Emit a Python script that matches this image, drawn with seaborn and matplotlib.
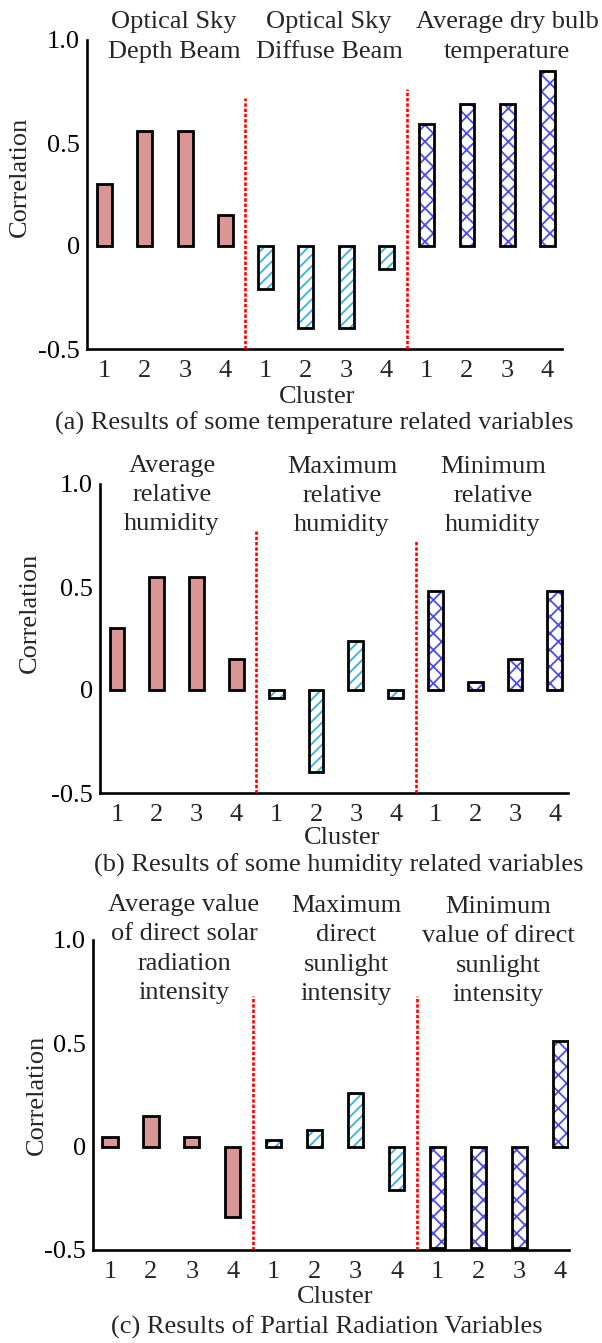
import numpy as np
import pandas as pd
import matplotlib
matplotlib.use("Agg")
import matplotlib.pyplot as plt
import seaborn as sns

# ---------------------------------------------------------------- data
clusters = ["1", "2", "3", "4"]
y_ticks = [-0.5, 0.0, 0.5, 1.0]
y_tick_labels = ["-0.5", "0", "0.5", "1.0"]

# (a) temperature related variables
temp_vars = ["Optical Sky\nDepth Beam", "Optical Sky\nDiffuse Beam",
             "Average dry bulb\ntemperature"]
temp_depth_beam = [0.30, 0.56, 0.56, 0.15]
temp_diffuse_beam = [-0.21, -0.40, -0.40, -0.11]
temp_dry_bulb = [0.59, 0.69, 0.69, 0.85]

# (b) humidity related variables
hum_vars = ["Average\nrelative\nhumidity", "Maximum\nrelative\nhumidity",
            "Minimum\nrelative\nhumidity"]
hum_average = [0.30, 0.55, 0.55, 0.15]
hum_maximum = [-0.04, -0.40, 0.24, -0.04]
hum_minimum = [0.48, 0.04, 0.15, 0.48]

# (c) partial radiation variables
rad_vars = ["Average value\nof direct solar\nradiation\nintensity",
            "Maximum\ndirect\nsunlight\nintensity",
            "Minimum\nvalue of direct\nsunlight\nintensity"]
rad_average = [0.045, 0.15, 0.045, -0.34]
rad_maximum = [0.03, 0.08, 0.26, -0.21]
rad_minimum = [-0.49, -0.49, -0.49, 0.51]

captions = ["(a) Results of some temperature related variables",
            "(b) Results of some humidity related variables",
            "(c) Results of Partial Radiation Variables"]

panels = [
    (temp_vars, [temp_depth_beam, temp_diffuse_beam, temp_dry_bulb]),
    (hum_vars, [hum_average, hum_maximum, hum_minimum]),
    (rad_vars, [rad_average, rad_maximum, rad_minimum]),
]

# ---------------------------------------------------------------- style
sns.set_style("white")
plt.rcParams["font.family"] = ["Liberation Serif", "DejaVu Serif"]
plt.rcParams["font.size"] = 19
plt.rcParams["hatch.linewidth"] = 1.3
plt.rcParams["axes.unicode_minus"] = False

FS = 19
fills = ["#D99694", "white", "white"]
hatches = [None, "///", "xx"]
hatch_colors = [None, "#33B2E3", "#4D4DE8"]
spine_w = 1.9
bar_w = 0.37

W, H = 602, 1343
fig = plt.figure(figsize=(W / 100, H / 100), dpi=100)


def fx(x):
    return x / W


def fy(y):
    return 1 - y / H


# layout of each panel (pixel frame of the axes, x-limits, label spots)
layouts = [
    dict(box=(87, 562, 40, 349), xlim=(-0.435, 11.36), sep_top=(0.72, 0.76),
         titles=[(174, 37), (329, 37), (507, 37)],
         ylabel=(20, 177), xlabel=(317, 397), caption=(314, 423)),
    dict(box=(100, 568, 484, 793), xlim=(-0.427, 11.33), sep_top=(0.77, 0.73),
         titles=[(172, 495), (342, 496), (493, 496)],
         ylabel=(30, 613), xlabel=(342, 838), caption=(339, 865)),
    dict(box=(93, 569, 940, 1250), xlim=(-0.415, 11.21), sep_top=(0.73, 0.73),
         titles=[(184, 949), (346, 950), (498, 951)],
         ylabel=(37, 1095), xlabel=(335, 1297), caption=(327, 1327)),
]

for (var_names, series), lay, cap in zip(panels, layouts, captions):
    l, r, t, b = lay["box"]
    ax = fig.add_axes([fx(l), fy(b), fx(r) - fx(l), (b - t) / H])

    slots = [f"{g}-{c}" for g in range(3) for c in clusters]
    df = pd.DataFrame({
        "slot": slots,
        "group": [var_names[g] for g in range(3) for _ in clusters],
        "value": np.concatenate(series),
    })

    # filled / hatched bodies
    sns.barplot(data=df, x="slot", y="value", hue="group", order=slots,
                hue_order=var_names, palette=fills, dodge=False, width=bar_w,
                saturation=1, linewidth=0, errorbar=None, legend=False, ax=ax)
    for cont, h, hc in zip(ax.containers, hatches, hatch_colors):
        for p in cont:
            if h:
                p.set_hatch(h)
                p.set_edgecolor(hc)
                p.set_linewidth(0)
    # black outlines on top
    sns.barplot(data=df, x="slot", y="value", order=slots, fill=False,
                color="black", edgecolor="black", linewidth=2.0, width=bar_w,
                saturation=1, errorbar=None, ax=ax)

    ax.set_xlim(*lay["xlim"])
    ax.set_ylim(-0.5, 1.0)

    # red dotted separators between variable groups
    for xs, top in zip([3.5, 7.5], lay["sep_top"]):
        ax.vlines(xs, -0.5, top, colors="#FF0000", linewidth=1.9,
                  linestyles=(0, (1.3, 0.7)), zorder=5)

    # axes frame
    sns.despine(ax=ax)
    for s in ["left", "bottom"]:
        ax.spines[s].set_linewidth(spine_w)
        ax.spines[s].set_color("black")

    ax.set_yticks(y_ticks)
    ax.set_yticklabels(y_tick_labels)
    ax.tick_params(axis="y", direction="in", length=8.5, width=spine_w,
                   pad=5, labelsize=FS, colors="black")

    ax.set_xticks(range(len(slots)))
    ax.set_xticklabels(clusters * 3)
    ax.tick_params(axis="x", which="major", length=0, pad=8, labelsize=FS)
    minor = [0.5, 1.5, 2.5, 4.5, 5.5, 6.5, 8.5, 9.5, 10.5, lay["xlim"][1]]
    ax.set_xticks(minor, minor=True)
    ax.tick_params(axis="x", which="minor", direction="in", length=6.5,
                   width=spine_w, color="black")

    # axis labels
    ax.set_ylabel("Correlation", fontsize=FS, va="center")
    ax.yaxis.set_label_coords((lay["ylabel"][0] - l) / (r - l),
                              (b - lay["ylabel"][1]) / (b - t))
    ax.set_xlabel("Cluster", fontsize=FS, va="center")
    ax.xaxis.set_label_coords((lay["xlabel"][0] - l) / (r - l),
                              (b - lay["xlabel"][1]) / (b - t))

    # variable names above each group
    for name, (tx, ty) in zip(var_names, lay["titles"]):
        fig.text(fx(tx), fy(ty), name, ha="center", va="center",
                 multialignment="center", fontsize=FS, linespacing=1.42)

    # panel caption
    fig.text(fx(lay["caption"][0]), fy(lay["caption"][1]), cap,
             ha="center", va="center", fontsize=FS)

fig.savefig("out.png", dpi=100)
